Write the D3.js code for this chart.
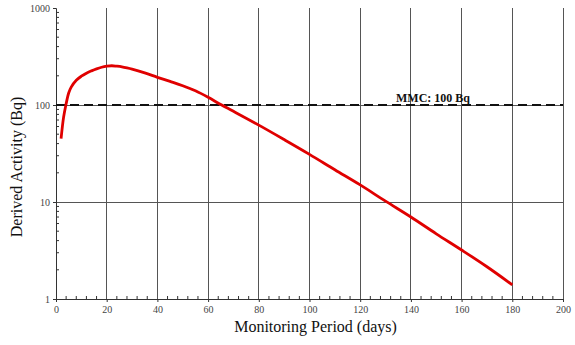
<!DOCTYPE html>
<html><head><meta charset="utf-8">
<script src="https://cdn.jsdelivr.net/npm/d3@7"></script>
<style>body{margin:0;background:#fff}svg{display:block}</style>
</head><body>
<svg id="c" width="575" height="345"></svg>
<script>
const days = [2,3,4,5,6,8,10,12,14,16,18,20,22,24,26,28,30,35,40,45,50,55,60,65,70,80,90,100,110,120,130,140,150,160,170,180];
const activity = [45,75,103,133,153,180,198,213,225,236,245,251,254,251,247,241,234,214,193,175,158,140,120,101,86,62,44,31,21.5,15,10.2,7.0,4.7,3.2,2.15,1.4];
const xTicks = [0,20,40,60,80,100,120,140,160,180,200];
const yTicks = [1,10,100,1000];
const mmcValue = 100;
const mmcLabel = "MMC: 100 Bq";
const xTitle = "Monitoring Period (days)";
const yTitle = "Derived Activity (Bq)";

const svg = d3.select("#c");
const L = 56, R = 563, T = 8, B = 299;
const x = d3.scaleLinear().domain([0,200]).range([L,R]);
const y = d3.scaleLog().domain([1,1000]).range([B,T]);
const serif = "'Liberation Serif','Times New Roman',serif";
const grid = "#555";

// vertical gridlines
svg.append("g").selectAll("line").data(xTicks.filter(d=>d>0)).join("line")
  .attr("x1",d=>x(d)).attr("x2",d=>x(d)).attr("y1",T).attr("y2",B)
  .attr("stroke",grid).attr("stroke-width",1).attr("shape-rendering","crispEdges");
// horizontal gridlines
svg.append("g").selectAll("line").data([10,100]).join("line")
  .attr("x1",L).attr("x2",R).attr("y1",d=>y(d)).attr("y2",d=>y(d))
  .attr("stroke",grid).attr("stroke-width",1).attr("shape-rendering","crispEdges");

// x axis
const xAxis = svg.append("g").attr("transform",`translate(0,${B})`)
  .call(d3.axisBottom(x).tickValues(xTicks).tickSize(3).tickPadding(4).tickFormat(d3.format("d")));
xAxis.select(".domain").attr("stroke","#333");
xAxis.selectAll(".tick line").attr("stroke","#333");
xAxis.selectAll("text").attr("font-family",serif).attr("font-size","10px").attr("fill","#444");
// x minor ticks
const xMinor = d3.range(0,201,4).filter(d=>d%20!==0);
svg.append("g").selectAll("line").data(xMinor).join("line")
  .attr("x1",d=>x(d)).attr("x2",d=>x(d)).attr("y1",B).attr("y2",B-3)
  .attr("stroke","#333").attr("stroke-width",1);

// y axis
const yAxis = svg.append("g").attr("transform",`translate(${L},0)`)
  .call(d3.axisLeft(y).tickValues(yTicks).tickSize(3).tickPadding(3).tickFormat(d3.format("d")));
yAxis.select(".domain").attr("stroke","#333");
yAxis.selectAll(".tick line").attr("stroke","#333");
yAxis.selectAll("text").attr("font-family",serif).attr("font-size","10px").attr("fill","#444");
// y minor ticks
const yMinor = [];
[1,10,100].forEach(b=>{for(let k=2;k<=9;k++) yMinor.push(b*k);});
svg.append("g").selectAll("line").data(yMinor).join("line")
  .attr("x1",L).attr("x2",L+3).attr("y1",d=>y(d)).attr("y2",d=>y(d))
  .attr("stroke","#333").attr("stroke-width",1);

// MMC dashed line
svg.append("line").attr("x1",L).attr("x2",R).attr("y1",y(mmcValue)).attr("y2",y(mmcValue))
  .attr("stroke","#111").attr("stroke-width",2).attr("stroke-dasharray","9,5");
svg.append("text").attr("x",396).attr("y",y(mmcValue)-3)
  .attr("font-family",serif).attr("font-weight","bold").attr("font-size","12px").attr("fill","#111")
  .text(mmcLabel);

// curve
const line = d3.line().x((d,i)=>x(days[i])).y(d=>y(d)).curve(d3.curveCatmullRom.alpha(0.5));
svg.append("path").datum(activity).attr("d",line)
  .attr("fill","none").attr("stroke","#e00000").attr("stroke-width",2.8).attr("stroke-linejoin","round");

// titles
svg.append("text").attr("x",(L+R)/2+6).attr("y",332).attr("text-anchor","middle")
  .attr("font-family",serif).attr("font-size","16px").attr("fill","#111").text(xTitle);
svg.append("text").attr("transform","translate(22,167) rotate(-90)").attr("text-anchor","middle")
  .attr("font-family",serif).attr("font-size","16px").attr("fill","#111").text(yTitle);
</script>
</body></html>
